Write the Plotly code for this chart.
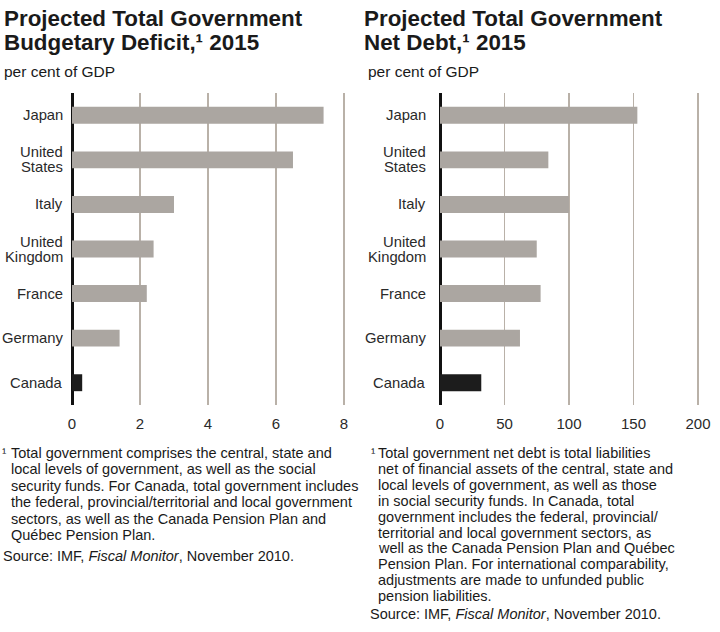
import plotly.graph_objects as go

countries = ["Japan", "United States", "Italy", "United Kingdom", "France", "Germany", "Canada"]
country_labels = [["Japan"], ["United", "States"], ["Italy"], ["United", "Kingdom"], ["France"], ["Germany"], ["Canada"]]
deficit = [7.4, 6.5, 3.0, 2.4, 2.2, 1.4, 0.3]
net_debt = [153, 84, 100, 75, 78, 62, 32]
deficit_ticks = [0, 2, 4, 6, 8]
debt_ticks = [0, 50, 100, 150, 200]

title_left = ["Projected Total Government", "Budgetary Deficit,¹ 2015"]
title_right = ["Projected Total Government", "Net Debt,¹ 2015"]
unit_label = "per cent of GDP"
left_note = ["Total government comprises the central, state and",
             "local levels of government, as well as the social",
             "security funds. For Canada, total government includes",
             "the federal, provincial/territorial and local government",
             "sectors, as well as the Canada Pension Plan and",
             "Québec Pension Plan."]
right_note = ["Total government net debt is total liabilities",
              "net of financial assets of the central, state and",
              "local levels of government, as well as those",
              "in social security funds. In Canada, total",
              "government includes the federal, provincial/",
              "territorial and local government sectors, as",
              "well as the Canada Pension Plan and Québec",
              "Pension Plan. For international comparability,",
              "adjustments are made to unfunded public",
              "pension liabilities."]
source = "Source: IMF, <i>Fiscal Monitor</i>, November 2010."

grey = "#aba6a1"
dark = "#1c1c1c"
colors = [dark if c == "Canada" else grey for c in countries]

FONT = "Liberation Sans, Arial, Helvetica, sans-serif"
W, H = 720, 632

def fx(X):
    return X / W

def fy(Y):
    return 1 - Y / H

fig = go.Figure()
fig.add_trace(go.Bar(x=deficit, y=countries, orientation="h", marker=dict(color=colors, line=dict(width=0)),
                     width=0.38, xaxis="x", yaxis="y", showlegend=False))
fig.add_trace(go.Bar(x=net_debt, y=countries, orientation="h", marker=dict(color=colors, line=dict(width=0)),
                     width=0.38, xaxis="x2", yaxis="y2", showlegend=False))

ytop, ybot = 93, 405
ydom = [fy(ybot), fy(ytop)]

axis_common = dict(showgrid=True, gridcolor="#b9b1a8", gridwidth=1.3, zeroline=True, zerolinecolor="#111111",
                   zerolinewidth=3, showline=False, ticks="", ticklabelstandoff=8, automargin=False,
                   tickfont=dict(size=15, color="#2a2a2a", family=FONT), fixedrange=True)
yaxis_common = dict(autorange=False, range=[6.5, -0.5], showgrid=False, zeroline=False, showline=False,
                    ticks="", automargin=False, showticklabels=False, domain=ydom, fixedrange=True)

fig.update_layout(
    width=W, height=H, margin=dict(l=0, r=0, t=0, b=0),
    paper_bgcolor="white", plot_bgcolor="white",
    font=dict(family=FONT, color="#222"),
    hovermode=False,
    xaxis=dict(domain=[fx(72), fx(345)], range=[0, 8.03], tickvals=deficit_ticks, anchor="y", **axis_common),
    yaxis=dict(anchor="x", **yaxis_common),
    xaxis2=dict(domain=[fx(440), fx(699)], range=[0, 200.8], tickvals=debt_ticks, anchor="y2", **axis_common),
    yaxis2=dict(anchor="x2", **yaxis_common),
)

# category labels, placed on the category axis
for xref, yref, shift in (("x domain", "y", -8), ("x2 domain", "y2", -13)):
    for cat, parts in zip(countries, country_labels):
        n = len(parts)
        for i, p in enumerate(parts):
            fig.add_annotation(x=0, y=cat, xref=xref, yref=yref, xanchor="right", yanchor="middle",
                               xshift=shift, yshift=(n - 1) * 7.5 - i * 15, text=p, showarrow=False,
                               borderpad=0, font=dict(size=14.8, color="#2a2a2a", family=FONT))

def ann(x, y, text, size, bold=False):
    fig.add_annotation(x=fx(x), y=fy(y), xref="paper", yref="paper", xanchor="left", yanchor="middle",
                       text=("<b>" + text + "</b>") if bold else text, showarrow=False, align="left",
                       borderpad=0, font=dict(size=size, family=FONT, color="#1a1a1a"))

def lines(x, y0, step, texts, size, bold=False):
    for i, t in enumerate(texts):
        ann(x, y0 + i * step, t, size, bold)

lines(3, 18, 24, title_left, 22.4, bold=True)
lines(363, 18, 24, title_right, 22.4, bold=True)
ann(3, 72, unit_label, 15.5)
ann(367, 72, unit_label, 15.5)

ann(1, 452, "¹", 13)
lines(10, 453, 16.4, left_note, 14.5)
ann(2, 556, source, 14.5)
ann(370, 452, "¹", 13)
lines(377, 453, 15.9, right_note, 14.5)
ann(369, 614, source, 14.5)

fig.write_html("out.html", config={"displayModeBar": False, "staticPlot": True},
               post_script="document.body.style.margin='0';")
